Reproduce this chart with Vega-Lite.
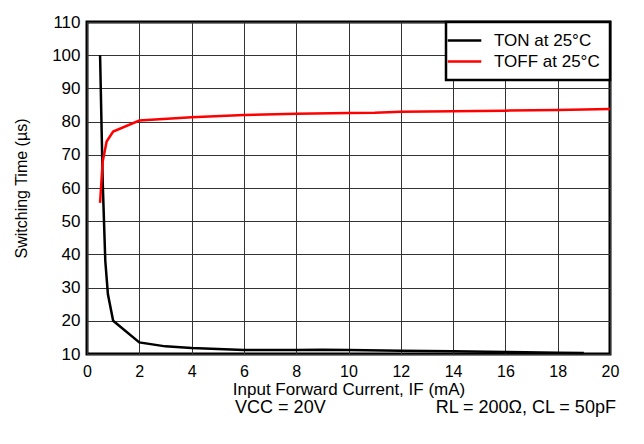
{
  "$schema": "https://vega.github.io/schema/vega-lite/v6.json",
  "description": "Switching time vs input forward current",
  "autosize": "none",
  "width": 523,
  "height": 332,
  "padding": {"left": 87, "top": 22, "right": 34, "bottom": 90},
  "background": "white",
  "config": {
    "font": "Liberation Sans",
    "view": {"stroke": "black", "strokeWidth": 3}
  },
  "title": {
    "text": "VCC = 20V\u00a0\u00a0\u00a0\u00a0\u00a0\u00a0\u00a0\u00a0\u00a0\u00a0\u00a0\u00a0\u00a0\u00a0\u00a0\u00a0\u00a0\u00a0\u00a0\u00a0\u00a0\u00a0RL = 200Ω, CL = 50pF",
    "orient": "bottom",
    "anchor": "end",
    "fontSize": 18,
    "fontWeight": "normal",
    "color": "black",
    "offset": 2,
    "dx": -3
  },
  "data": {
    "values": [
      {"current": 0.5, "time": 100, "series": "TON at 25°C"},
      {"current": 0.6, "time": 62, "series": "TON at 25°C"},
      {"current": 0.7, "time": 38, "series": "TON at 25°C"},
      {"current": 0.8, "time": 28, "series": "TON at 25°C"},
      {"current": 1, "time": 20, "series": "TON at 25°C"},
      {"current": 2, "time": 13.5, "series": "TON at 25°C"},
      {"current": 3, "time": 12.3, "series": "TON at 25°C"},
      {"current": 4, "time": 11.8, "series": "TON at 25°C"},
      {"current": 6, "time": 11.2, "series": "TON at 25°C"},
      {"current": 8, "time": 11.2, "series": "TON at 25°C"},
      {"current": 9, "time": 11.3, "series": "TON at 25°C"},
      {"current": 10, "time": 11.2, "series": "TON at 25°C"},
      {"current": 12, "time": 11, "series": "TON at 25°C"},
      {"current": 14, "time": 10.8, "series": "TON at 25°C"},
      {"current": 16, "time": 10.6, "series": "TON at 25°C"},
      {"current": 18, "time": 10.4, "series": "TON at 25°C"},
      {"current": 19, "time": 10.3, "series": "TON at 25°C"},
      {"current": 0.5, "time": 55.5, "series": "TOFF at 25°C"},
      {"current": 0.6, "time": 68, "series": "TOFF at 25°C"},
      {"current": 0.75, "time": 74, "series": "TOFF at 25°C"},
      {"current": 1, "time": 77, "series": "TOFF at 25°C"},
      {"current": 2, "time": 80.3, "series": "TOFF at 25°C"},
      {"current": 4, "time": 81.3, "series": "TOFF at 25°C"},
      {"current": 6, "time": 82, "series": "TOFF at 25°C"},
      {"current": 8, "time": 82.4, "series": "TOFF at 25°C"},
      {"current": 10, "time": 82.6, "series": "TOFF at 25°C"},
      {"current": 11, "time": 82.7, "series": "TOFF at 25°C"},
      {"current": 12, "time": 83, "series": "TOFF at 25°C"},
      {"current": 14, "time": 83.1, "series": "TOFF at 25°C"},
      {"current": 16, "time": 83.3, "series": "TOFF at 25°C"},
      {"current": 18, "time": 83.5, "series": "TOFF at 25°C"},
      {"current": 20, "time": 83.8, "series": "TOFF at 25°C"}
    ]
  },
  "mark": {"type": "line", "strokeWidth": 2.5},
  "encoding": {
    "x": {
      "field": "current",
      "type": "quantitative",
      "scale": {"domain": [0, 20], "nice": false},
      "axis": {
        "title": "Input Forward Current, IF (mA)",
        "values": [0, 2, 4, 6, 8, 10, 12, 14, 16, 18, 20],
        "ticks": false,
        "domain": false,
        "labelFlush": false,
        "labelPadding": 9,
        "labelFontSize": 16,
        "labelColor": "black",
        "titleFontSize": 17,
        "titleFontWeight": "normal",
        "titleColor": "black",
        "titlePadding": 2,
        "gridColor": "#333",
        "gridOpacity": 1,
        "gridWidth": 1
      }
    },
    "y": {
      "field": "time",
      "type": "quantitative",
      "scale": {"domain": [10, 110], "nice": false},
      "axis": {
        "title": "Switching Time (µs)",
        "values": [10, 20, 30, 40, 50, 60, 70, 80, 90, 100, 110],
        "ticks": false,
        "domain": false,
        "labelFlush": false,
        "labelPadding": 7,
        "labelFontSize": 17,
        "labelColor": "black",
        "titleFontSize": 16,
        "titleFontWeight": "normal",
        "titleColor": "black",
        "titlePadding": 22,
        "gridColor": "#333",
        "gridOpacity": 1,
        "gridWidth": 1
      }
    },
    "color": {
      "field": "series",
      "type": "nominal",
      "scale": {"domain": ["TON at 25°C", "TOFF at 25°C"], "range": ["black", "red"]},
      "legend": {
        "title": null,
        "orient": "top-right",
        "offset": 0,
        "symbolType": "M-2.4,0H2.4",
        "symbolSize": 196,
        "symbolStrokeWidth": 2.5,
        "labelFontSize": 17,
        "labelColor": "black",
        "labelOffset": 21,
        "rowPadding": 3,
        "padding": 10,
        "fillColor": "white",
        "strokeColor": "black",
        "encode": {
          "legend": {"update": {"strokeWidth": {"value": 2.5}}}
        }
      }
    }
  }
}
